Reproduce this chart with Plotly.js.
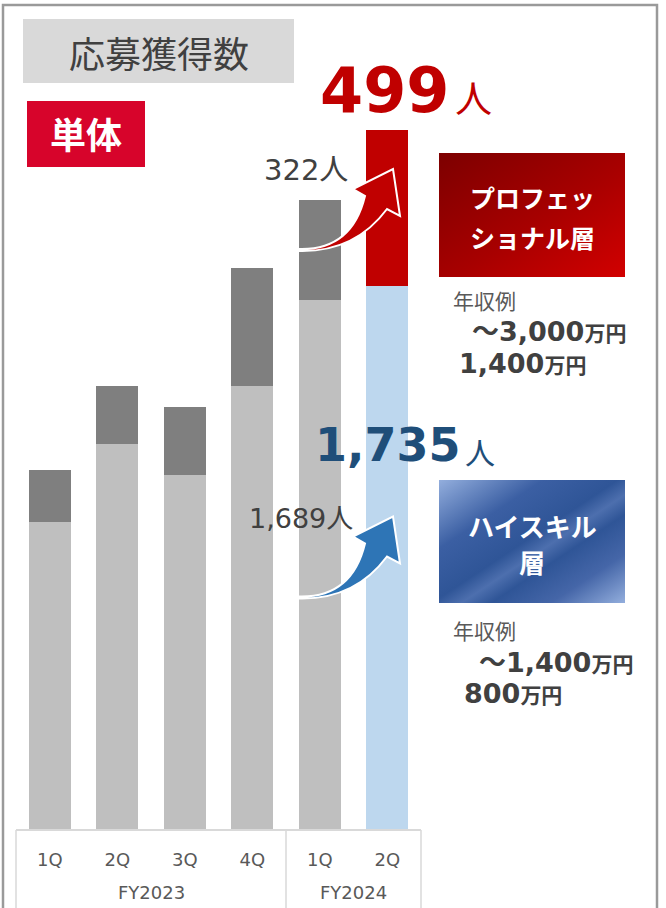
<!DOCTYPE html>
<html>
<head>
<meta charset="utf-8">
<script src="https://cdn.plot.ly/plotly-3.0.1.min.js"></script>
<style>
html,body{margin:0;padding:0;background:#fff;}
#chart{width:666px;height:908px;}
</style>
</head>
<body>
<div id="chart"></div>
<script>
// ---- data ----
const fiscalYears = ["FY2023","FY2023","FY2023","FY2023","FY2024","FY2024"];
const quarters    = ["1Q","2Q","3Q","4Q","1Q","2Q"];
const highSkill   = [982, 1231, 1131, 1415, 1689, 1735];   // lower segment
const professional= [166, 185, 217, 378, 322, 499];        // upper segment
const lowerColors = ["#bfbfbf","#bfbfbf","#bfbfbf","#bfbfbf","#bfbfbf","#bdd7ee"];
const upperColors = ["#7f7f7f","#7f7f7f","#7f7f7f","#7f7f7f","#7f7f7f","#c00000"];

// ---- geometry helpers (pixel -> paper) ----
const L = 16, R = 421, T = 78, B = 829;
const px = x => (x - L) / (R - L);
const py = y => (B - y) / (B - T);

const NUM = "DejaVu Sans, Noto Sans CJK JP, sans-serif";
const JP  = "Noto Sans CJK JP, sans-serif";

const idx = quarters.map((q, i) => i);
const nCat = quarters.length;

function ann(text, x, y, size, color, opts) {
  return Object.assign({
    text: text, xref: "paper", yref: "paper", x: px(x), y: py(y),
    showarrow: false, xanchor: "center", yanchor: "middle",
    font: {family: NUM, size: size, color: color}
  }, opts || {});
}

function svgImg(svg, x0, y0, x1, y1) {
  return {
    source: "data:image/svg+xml;charset=utf-8," + encodeURIComponent(svg),
    xref: "paper", yref: "paper", x: px(x0), y: py(y0),
    sizex: px(x1) - px(x0), sizey: py(y0) - py(y1),
    xanchor: "left", yanchor: "top", sizing: "stretch", layer: "above"
  };
}

const redSvg = "<svg xmlns='http://www.w3.org/2000/svg' width='186' height='124' viewBox='0 0 186 124' preserveAspectRatio='none'>" +
  "<defs><linearGradient id='g' x1='0' y1='0' x2='1' y2='1'>" +
  "<stop offset='0' stop-color='#7d0000'/><stop offset='0.55' stop-color='#a80000'/><stop offset='1' stop-color='#d20000'/>" +
  "</linearGradient></defs><rect width='186' height='124' fill='url(#g)'/></svg>";

const blueSvg = "<svg xmlns='http://www.w3.org/2000/svg' width='186' height='123' viewBox='0 0 186 123' preserveAspectRatio='none'>" +
  "<defs><linearGradient id='g' x1='0' y1='0' x2='1' y2='1'>" +
  "<stop offset='0' stop-color='#93aedd'/><stop offset='0.28' stop-color='#3b5fa3'/><stop offset='0.48' stop-color='#2f5597'/>" +
  "<stop offset='0.56' stop-color='#4d6fae'/><stop offset='0.64' stop-color='#2f5597'/><stop offset='0.8' stop-color='#4566a8'/>" +
  "<stop offset='1' stop-color='#93aedd'/>" +
  "</linearGradient></defs><rect width='186' height='123' fill='url(#g)'/></svg>";

const arrowPx = "M300,249 Q352,250 365,196 L353,189 L393,169 L400,216 L387,209 Q355,252 300,251 Z";
function arrowPath(dy) {
  return arrowPx.replace(/(-?[\d.]+),(-?[\d.]+)/g,
    (m, a, b) => px(+a).toFixed(5) + "," + py(+b + dy).toFixed(5));
}

const traces = [
  {type: "bar", x: idx, y: highSkill,
   marker: {color: lowerColors, line: {width: 0}}, hoverinfo: "none"},
  {type: "bar", x: idx, y: professional,
   marker: {color: upperColors, line: {width: 0}}, hoverinfo: "none"}
];

// group (fiscal year) labels and dividers derived from the fiscalYears array
const groups = [];
fiscalYears.forEach((fy, i) => {
  const g = groups[groups.length - 1];
  if (g && g.name === fy) g.end = i; else groups.push({name: fy, start: i, end: i});
});
const divLine = {color: "#d9d9d9", width: 1.5};
const dividerShapes = [];
groups.forEach((g, k) => {
  if (k === 0) dividerShapes.push({type: "line", xref: "paper", yref: "paper",
    x0: (g.start) / nCat, x1: (g.start) / nCat, y0: py(830), y1: py(915), line: divLine});
  dividerShapes.push({type: "line", xref: "paper", yref: "paper",
    x0: (g.end + 1) / nCat, x1: (g.end + 1) / nCat, y0: py(830), y1: py(915), line: divLine});
});
const groupAnns = groups.map(g => ({
  text: g.name, xref: "paper", yref: "paper", x: (g.start + g.end + 1) / 2 / nCat, y: py(893),
  showarrow: false, xanchor: "center", yanchor: "middle",
  font: {family: NUM, size: 18, color: "#595959"}
}));

const shapes = [
  {type: "rect", xref: "paper", yref: "paper", x0: px(3), x1: px(657), y0: py(5), y1: py(930),
   line: {color: "#9a9a9a", width: 2.5}, fillcolor: "rgba(0,0,0,0)"},
  {type: "rect", xref: "paper", yref: "paper", x0: px(23), x1: px(294), y0: py(19), y1: py(83),
   line: {width: 0}, fillcolor: "#d9d9d9"},
  {type: "rect", xref: "paper", yref: "paper", x0: px(27), x1: px(145), y0: py(101), y1: py(167),
   line: {width: 0}, fillcolor: "#d7042b"},
  {type: "path", xref: "paper", yref: "paper", path: arrowPath(0),
   fillcolor: "#c00000", line: {color: "#ffffff", width: 2}},
  {type: "path", xref: "paper", yref: "paper", path: arrowPath(347.5),
   fillcolor: "#2e75b6", line: {color: "#ffffff", width: 2}}
].concat(dividerShapes);

const annotations = [
  ann("応募獲得数", 158.5, 52, 36, "#404040", {font: {family: JP, size: 36, color: "#404040"}}),
  ann("<b>単体</b>", 86, 133, 36, "#ffffff", {font: {family: JP, size: 36, color: "#ffffff"}}),

  ann("<b>499</b>", 451, 90, 62, "#c00000", {xanchor: "right"}),
  ann("人", 453, 97, 38, "#c00000", {xanchor: "left", font: {family: JP, size: 37, color: "#c00000"}}),
  ann("322人", 306, 170, 29, "#404040"),

  ann("<b>プロフェッ</b>", 532, 197, 25, "#ffffff", {font: {family: JP, size: 25, color: "#ffffff"}}),
  ann("<b>ショナル層</b>", 532, 237, 25, "#ffffff", {font: {family: JP, size: 25, color: "#ffffff"}}),

  ann("年収例", 451, 300, 21, "#595959", {xanchor: "left", font: {family: JP, size: 21, color: "#595959"}}),
  ann("<b>～3,000<span style='font-size:21px'>万円</span></b>", 470, 331, 27, "#404040", {xanchor: "left"}),
  ann("<b>1,400<span style='font-size:21px'>万円</span></b>", 457, 363, 27, "#404040", {xanchor: "left"}),

  ann("<b>1,735</b>", 463, 445, 46, "#1f4e79", {xanchor: "right"}),
  ann("人", 463, 451, 30, "#1f4e79", {xanchor: "left", font: {family: JP, size: 30, color: "#1f4e79"}}),
  ann("1,689人", 301, 518, 27, "#404040"),

  ann("<b>ハイスキル</b>", 532, 525, 26, "#ffffff", {font: {family: JP, size: 26, color: "#ffffff"}}),
  ann("<b>層</b>", 532, 561, 26, "#ffffff", {font: {family: JP, size: 26, color: "#ffffff"}}),

  ann("年収例", 451, 630, 21, "#595959", {xanchor: "left", font: {family: JP, size: 21, color: "#595959"}}),
  ann("<b>～1,400<span style='font-size:21px'>万円</span></b>", 477, 662, 27, "#404040", {xanchor: "left"}),
  ann("<b>800<span style='font-size:21px'>万円</span></b>", 462, 693, 27, "#404040", {xanchor: "left"})
].concat(groupAnns);

const layout = {
  width: 666, height: 908,
  margin: {l: L, r: 666 - R, t: T, b: 908 - B, pad: 0},
  paper_bgcolor: "#ffffff", plot_bgcolor: "#ffffff",
  barmode: "stack", bargap: 0.378, showlegend: false,
  xaxis: {
    type: "linear", range: [-0.5, nCat - 0.5],
    tickmode: "array", tickvals: idx, ticktext: quarters,
    showline: true, linecolor: "#d9d9d9", linewidth: 1.5,
    showgrid: false, zeroline: false, ticks: "",
    ticklabelstandoff: 14,
    tickfont: {family: NUM, size: 18, color: "#595959"}
  },
  yaxis: {visible: false, range: [0, 2400], showgrid: false, zeroline: false, fixedrange: true},
  shapes: shapes,
  annotations: annotations,
  images: [svgImg(redSvg, 439, 153, 625, 277), svgImg(blueSvg, 439, 480, 625, 603)]
};

Plotly.newPlot("chart", traces, layout, {displayModeBar: false, staticPlot: true});
</script>
</body>
</html>
